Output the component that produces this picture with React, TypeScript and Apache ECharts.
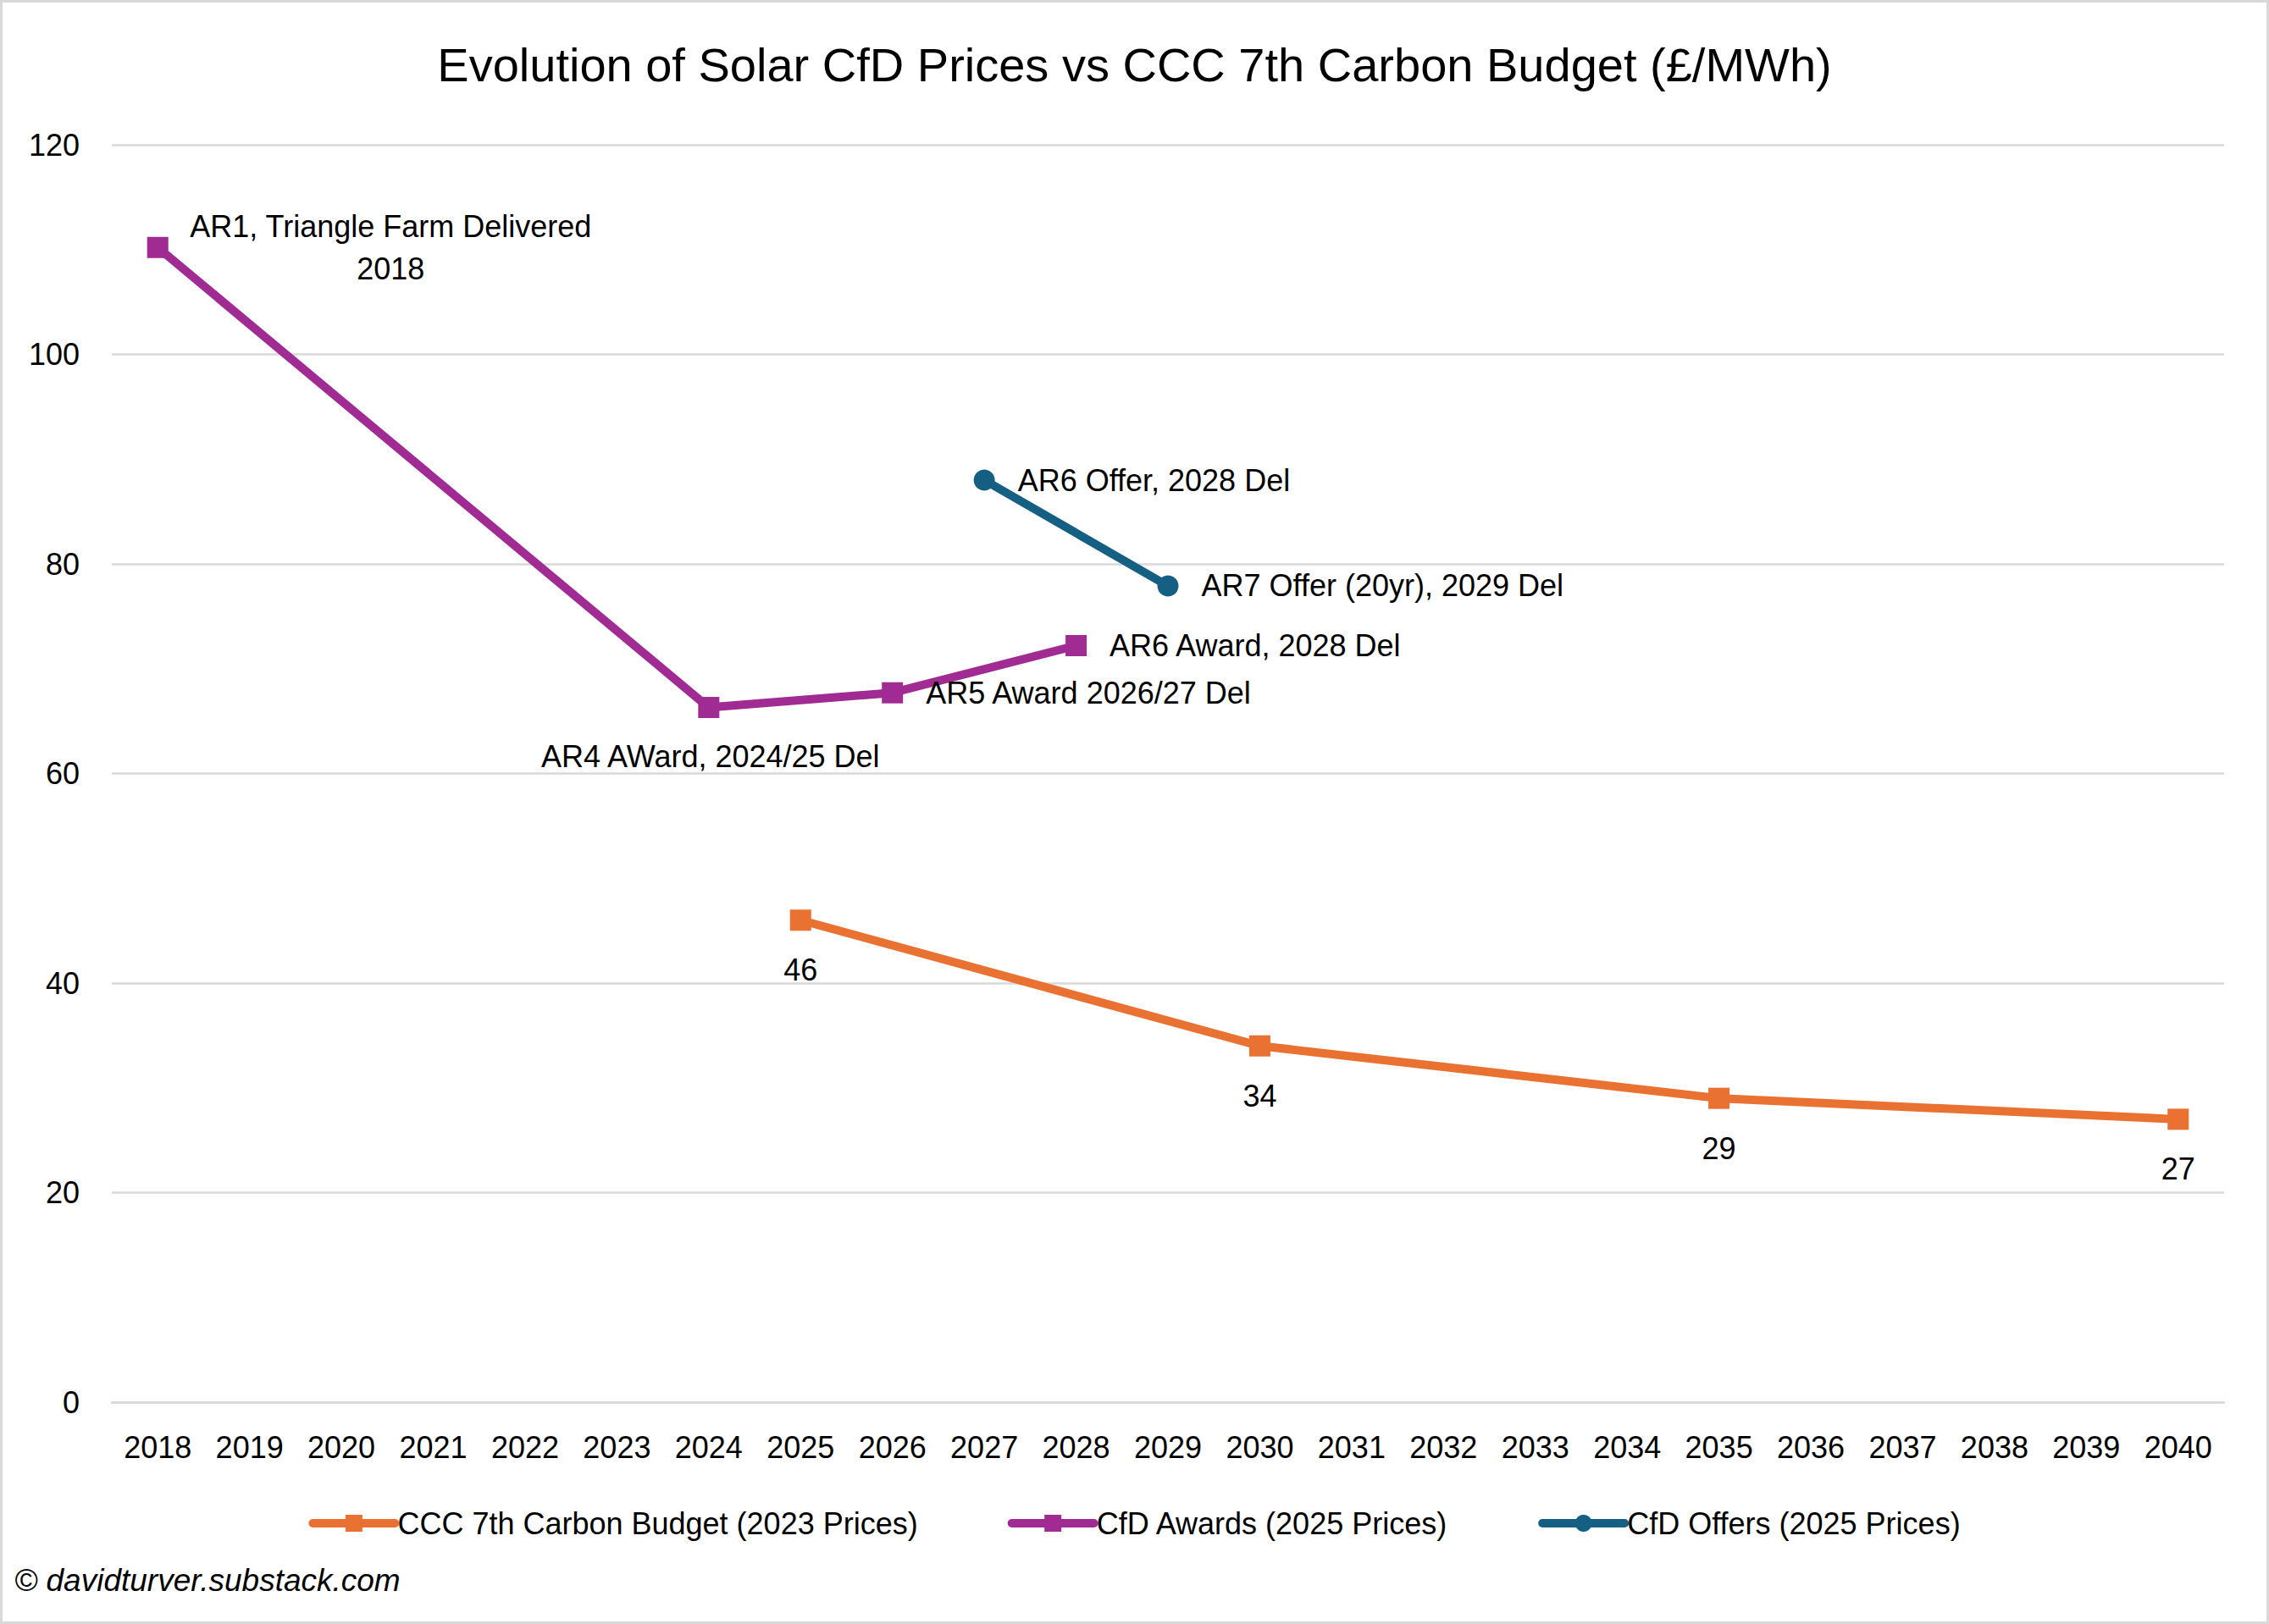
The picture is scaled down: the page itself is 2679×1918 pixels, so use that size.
import React, { useEffect, useRef } from "react";
import * as echarts from "echarts";

const years = [
  "2018", "2019", "2020", "2021", "2022", "2023", "2024", "2025", "2026", "2027", "2028", "2029",
  "2030", "2031", "2032", "2033", "2034", "2035", "2036", "2037", "2038", "2039", "2040",
];
const yTicks = [0, 20, 40, 60, 80, 100, 120];

// CCC 7th Carbon Budget (2023 Prices)
const cccValues: (number | null)[] = [
  null, null, null, null, null, null, null, 46, null, null, null, null,
  34, null, null, null, null, 29, null, null, null, null, 27,
];
// CfD Awards (2025 Prices)
const awardValues: (number | null)[] = [
  110.2, null, null, null, null, null, 66.3, null, 67.7, null, 72.2, null,
  null, null, null, null, null, null, null, null, null, null, null,
];
const awardLabels: (string | null)[] = [
  "AR1, Triangle Farm Delivered\n2018", null, null, null, null, null, "AR4 AWard, 2024/25 Del", null,
  "AR5 Award 2026/27 Del", null, "AR6 Award, 2028 Del", null,
  null, null, null, null, null, null, null, null, null, null, null,
];
// CfD Offers (2025 Prices)
const offerValues: (number | null)[] = [
  null, null, null, null, null, null, null, null, null, 88.0, null, 77.9,
  null, null, null, null, null, null, null, null, null, null, null,
];
const offerLabels: (string | null)[] = [
  null, null, null, null, null, null, null, null, null, "AR6 Offer, 2028 Del", null, "AR7 Offer (20yr), 2029 Del",
  null, null, null, null, null, null, null, null, null, null, null,
];

const seriesNames = [
  "CCC 7th Carbon Budget (2023 Prices)",
  "CfD Awards (2025 Prices)",
  "CfD Offers (2025 Prices)",
];
const titleText = "Evolution of Solar CfD Prices vs CCC 7th Carbon Budget (£/MWh)";
const footerText = "© davidturver.substack.com";

const FONT = "'Liberation Sans', Arial, sans-serif";
const W = 2679;
const H = 1918;
const FS = 36;
const LW = 10;

// label placement styles (kept separate from data)
const awardLabelStyle: Record<number, any> = {
  0: { position: "inside", align: "center", offset: [275, 0], lineHeight: 50 },
  6: { position: "inside", align: "center", offset: [2, 58] },
  8: { position: "right", distance: 27 },
  10: { position: "right", distance: 27 },
};

export default function App() {
  const ref = useRef<HTMLDivElement>(null);
  useEffect(() => {
    document.body.style.margin = "0";
    if (!ref.current) return;
    const chart = echarts.init(ref.current, null, { renderer: "svg" });

    const cccData = cccValues.map((v) =>
      v == null
        ? null
        : {
            value: v,
            label: {
              show: true,
              position: "inside",
              offset: [0, 59],
              formatter: String(Math.round(v)),
            },
          }
    );
    const awardData = awardValues.map((v, i) =>
      v == null
        ? null
        : {
            value: v,
            label: {
              show: awardLabels[i] != null,
              formatter: awardLabels[i] ?? "",
              ...(awardLabelStyle[i] || { position: "right", distance: 27 }),
            },
          }
    );
    const offerData = offerValues.map((v, i) =>
      v == null
        ? null
        : {
            value: v,
            label: {
              show: offerLabels[i] != null,
              formatter: offerLabels[i] ?? "",
              position: "right",
              distance: 27,
            },
          }
    );

    const labelBase = { color: "#000", fontSize: FS, fontFamily: FONT };

    chart.setOption({
      animation: false,
      backgroundColor: "#fff",
      textStyle: { fontFamily: FONT },
      title: {
        text: titleText,
        left: "center",
        top: 43,
        textStyle: { fontSize: 56, fontWeight: "normal", color: "#000", fontFamily: FONT },
      },
      grid: { left: 132, right: 53, top: 171, bottom: 262, containLabel: false },
      legend: {
        data: seriesNames,
        left: "center",
        top: 1776,
        itemWidth: 97,
        itemHeight: 25,
        itemGap: 106,
        lineStyle: { width: LW, cap: "round" },
        textStyle: { fontSize: FS, color: "#000", fontFamily: FONT, padding: [0, 0, 0, -2] },
      },
      xAxis: {
        type: "category",
        data: years,
        boundaryGap: true,
        axisLine: { show: true, lineStyle: { color: "#d9d9d9", width: 2.5 } },
        axisTick: { show: false },
        axisLabel: { color: "#000", fontSize: FS, fontFamily: FONT, margin: 35, interval: 0 },
        splitLine: { show: false },
      },
      yAxis: {
        type: "value",
        min: yTicks[0],
        max: yTicks[yTicks.length - 1],
        interval: 20,
        axisLine: { show: false },
        axisTick: { show: false },
        axisLabel: { color: "#000", fontSize: FS, fontFamily: FONT, margin: 38 },
        splitLine: { show: true, lineStyle: { color: "#d9d9d9", width: 2.5 } },
      },
      series: [
        {
          name: seriesNames[0],
          type: "line",
          data: cccData,
          connectNulls: true,
          symbol: "rect",
          symbolSize: 25,
          color: "#E97132",
          lineStyle: { width: LW, color: "#E97132" },
          itemStyle: { color: "#E97132" },
          label: labelBase,
        },
        {
          name: seriesNames[1],
          type: "line",
          data: awardData,
          connectNulls: true,
          symbol: "rect",
          symbolSize: 25,
          color: "#A02B93",
          lineStyle: { width: LW, color: "#A02B93" },
          itemStyle: { color: "#A02B93" },
          label: labelBase,
        },
        {
          name: seriesNames[2],
          type: "line",
          data: offerData,
          connectNulls: true,
          symbol: "circle",
          symbolSize: 25,
          color: "#156082",
          lineStyle: { width: LW, color: "#156082" },
          itemStyle: { color: "#156082" },
          label: labelBase,
        },
      ],
      graphic: [
        {
          type: "rect",
          shape: { x: 1.5, y: 1.5, width: W - 3, height: H - 3 },
          style: { fill: "none", stroke: "#d9d9d9", lineWidth: 3 },
          silent: true,
        },
        {
          type: "text",
          left: 17,
          top: 1848,
          style: {
            text: footerText,
            fontSize: 37,
            fontStyle: "italic",
            fontFamily: FONT,
            fill: "#000",
          },
        },
      ],
    });
    return () => chart.dispose();
  }, []);
  return <div ref={ref} style={{ width: W, height: H }} />;
}
